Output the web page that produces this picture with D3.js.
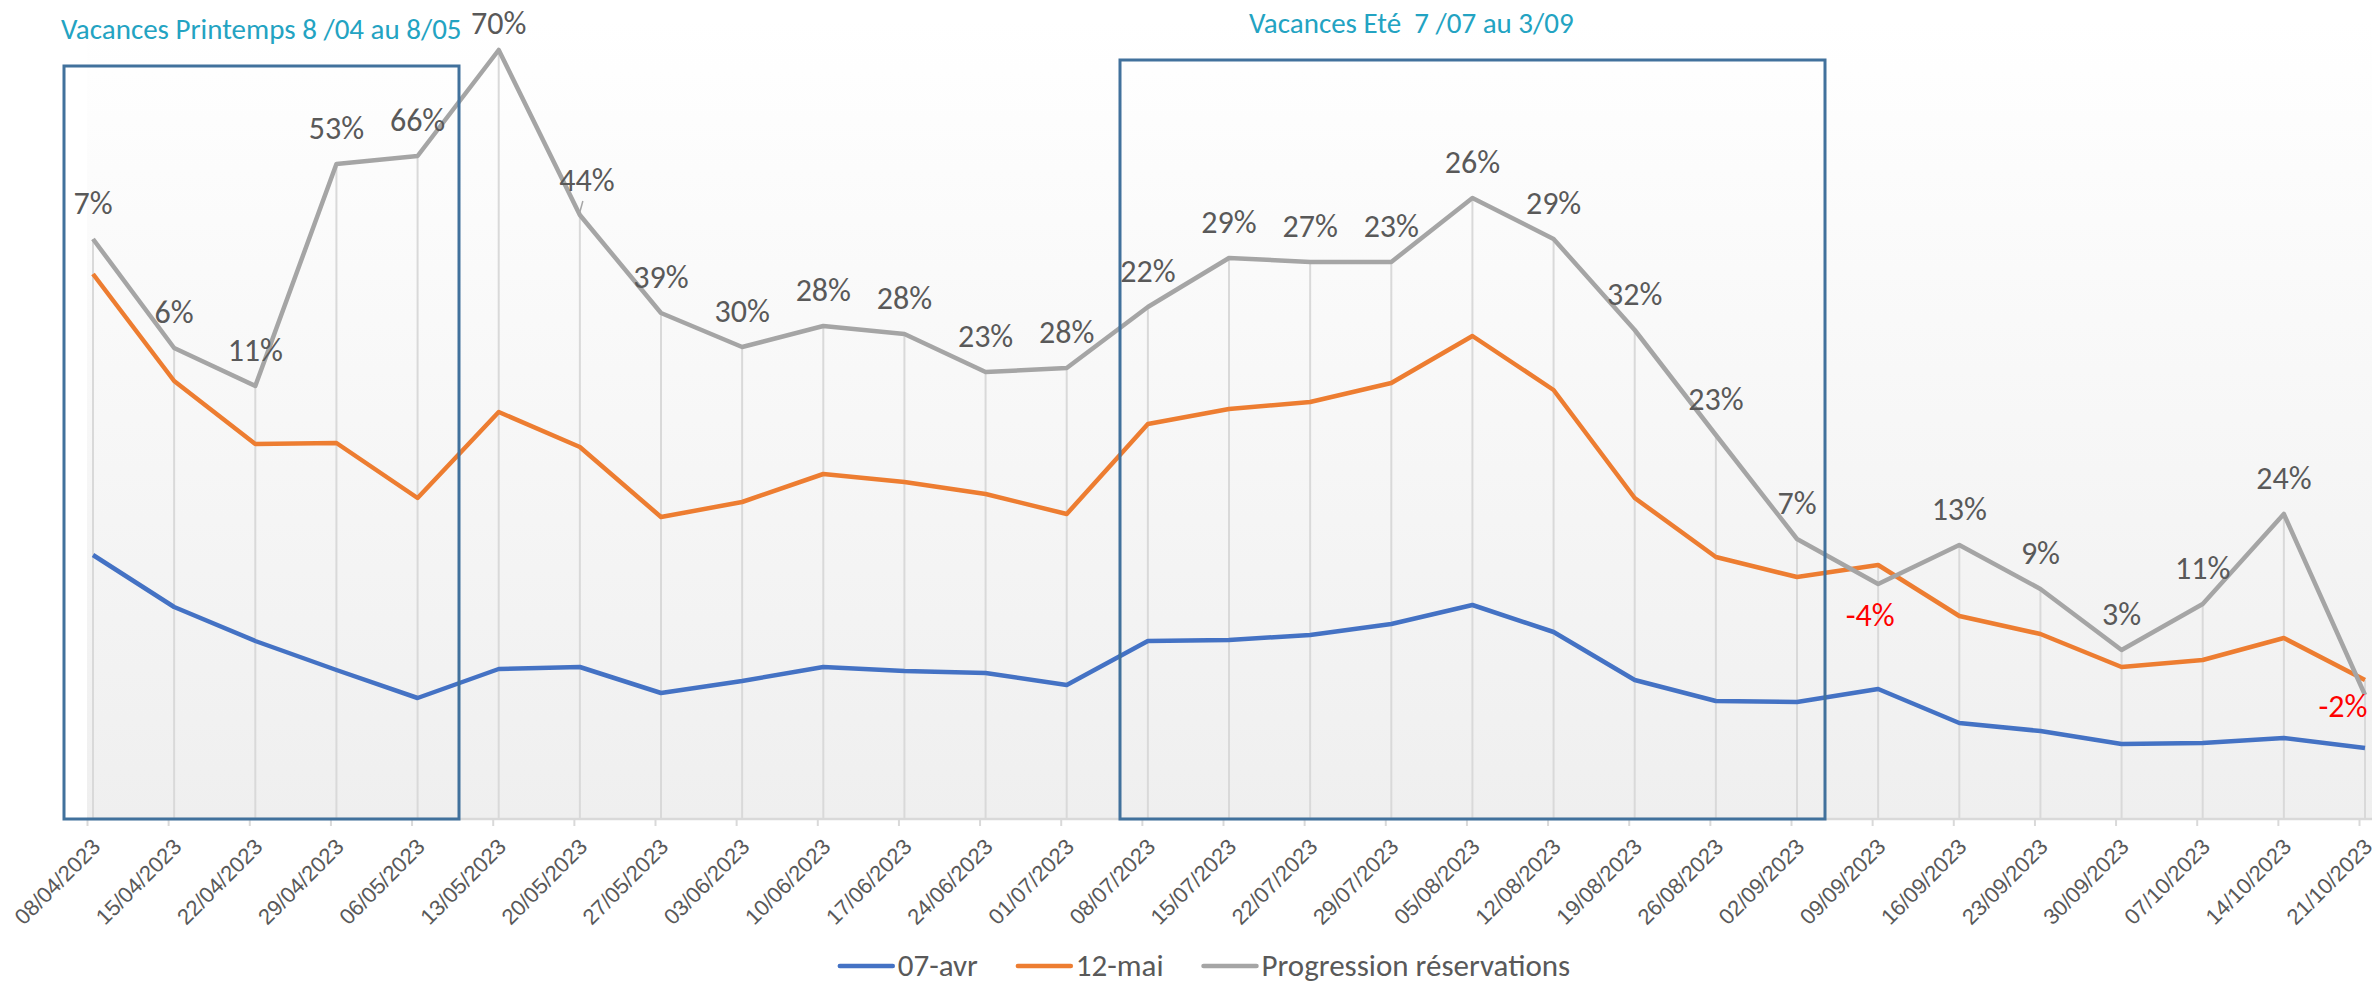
<!DOCTYPE html>
<html>
<head>
<meta charset="utf-8">
<script src="https://cdn.jsdelivr.net/npm/d3@7"></script>
<style>
    body { margin: 0; background: #ffffff; }
    svg { display: block; font-family: Carlito, Calibri, Lato, sans-serif; }
</style>
</head>
<body>
<svg id="chart" viewBox="0 0 2377 986" width="2377" height="986"></svg>
<script>
// categories (weekly dates)
const dates = ["08/04/2023","15/04/2023","22/04/2023","29/04/2023","06/05/2023","13/05/2023","20/05/2023",
    "27/05/2023","03/06/2023","10/06/2023","17/06/2023","24/06/2023","01/07/2023","08/07/2023","15/07/2023",
    "22/07/2023","29/07/2023","05/08/2023","12/08/2023","19/08/2023","26/08/2023","02/09/2023","09/09/2023",
    "16/09/2023","23/09/2023","30/09/2023","07/10/2023","14/10/2023","21/10/2023"]

// series values (no axis shown)
const avr07 = [264,212,178,149,121,150,152,126,138,152,148,146,134,178,179,184,195,214,187,139,118,117,130,96,88,75,76,81,71]
const mai12 = [545,438,375,376,321,407,372,302,317,345,337,325,305,395,410,417,436,483,429,321,262,242,254,203,185,152,159,181,139]
const progression = [580,471,433,655,663,769,604,506,472,493,485,447,451,512,561,557,557,621,580,489,384,280,235,274,230,169,215,305,124]
const progressionLabels = ["7%","6%","11%","53%","66%","70%","44%","39%","30%","28%","28%","23%","28%","22%","29%",
    "27%","23%","26%","29%","32%","23%","7%","-4%","13%","9%","3%","11%","24%","-2%"]

const seriesNames = ["07-avr","12-mai","Progression réservations"]
const seriesColors = ["#4472C4","#ED7D31","#A5A5A5"]

// holiday period titles
const periodTitles = ["Vacances Printemps 8 /04 au 8/05","Vacances Eté  7 /07 au 3/09"]

let svg = d3.select("#chart")
let baseY = 819

let x = d3.scalePoint()
    .domain(dates)
    .range([93, 2365])

let y = d3.scaleLinear()
    .domain([0, 800])
    .range([baseY, 19])

// plot area gradient
let defs = svg.append("defs")
let grad = defs.append("linearGradient")
    .attr("id","plotGrad")
    .attr("x1",0).attr("y1",0).attr("x2",0).attr("y2",1)
grad.append("stop").attr("offset","0%").attr("stop-color","#ffffff")
grad.append("stop").attr("offset","100%").attr("stop-color","#efefef")

svg.append("rect")
    .attr("x",87)
    .attr("y",20)
    .attr("width",2372-87)
    .attr("height",baseY-20)
    .attr("fill","url(#plotGrad)")

// drop lines from highest point of each category
let tops = dates.map(function(d,i){ return Math.max(avr07[i],mai12[i],progression[i]) })
svg.append("g")
    .selectAll("line")
    .data(dates)
    .enter()
    .append("line")
    .attr("x1",function(d){ return x(d) })
    .attr("x2",function(d){ return x(d) })
    .attr("y1",function(d,i){ return y(tops[i]) })
    .attr("y2",baseY)
    .attr("stroke","#d9d9d9")
    .attr("stroke-width",2)

// x axis
let xAxis = d3.axisBottom(x)
    .tickSize(7)
    .tickSizeOuter(0)
let axisG = svg.append("g")
    .attr("transform",`translate(-6,${baseY})`)
    .call(xAxis)
axisG.select(".domain")
    .attr("d",`M93,0H2378`)
    .attr("stroke","#d9d9d9")
    .attr("stroke-width",2.5)
axisG.selectAll(".tick line")
    .attr("stroke","#d9d9d9")
    .attr("stroke-width",2)
axisG.selectAll(".tick text")
    .attr("fill","#595959")
    .style("font-size","22px")
    .attr("text-anchor","end")
    .attr("y",0)
    .attr("dy","0.72em")
    .attr("transform","translate(3,18) rotate(-45)")

// lines
let allSeries = [avr07, mai12, progression]
let line = d3.line()
    .x(function(d,i){ return x(dates[i]) })
    .y(function(d){ return y(d) })

svg.append("g")
    .selectAll("path")
    .data(allSeries)
    .enter()
    .append("path")
    .attr("d",function(d){ return line(d) })
    .attr("fill","none")
    .attr("stroke",function(d,i){ return seriesColors[i] })
    .attr("stroke-width",4.5)
    .attr("stroke-linejoin","round")

// data labels on the progression line, a few moved like in excel
let labelNudge = {5:[0,9], 6:[7,1], 22:[-8,67], 28:[-22,47]}
let labelG = svg.append("g")
labelG.selectAll("text")
    .data(progressionLabels)
    .enter()
    .append("text")
    .attr("x",function(d,i){ return x(dates[i]) + (labelNudge[i] ? labelNudge[i][0] : 0) })
    .attr("y",function(d,i){ return y(progression[i]) - 36 + (labelNudge[i] ? labelNudge[i][1] : 0) })
    .attr("dy","0.35em")
    .attr("text-anchor","middle")
    .attr("fill",function(d){ return d.startsWith("-") ? "#FF0000" : "#595959" })
    .style("font-size","32px")
    .text(function(d){ return d })

// leader line for the 44% label
labelG.append("line")
    .attr("x1",x(dates[6]) + 3)
    .attr("y1",y(progression[6]) - 14)
    .attr("x2",x(dates[6]))
    .attr("y2",y(progression[6]) - 3)
    .attr("stroke","#a6a6a6")
    .attr("stroke-width",1.5)

// holiday boxes
let boxes = [
    {x0:64, x1:459, top:66, title:periodTitles[0], tx:61, ty:39},
    {x0:1120, x1:1825, top:60, title:periodTitles[1], tx:1249, ty:33}
]
let boxG = svg.append("g")
boxG.selectAll("rect")
    .data(boxes)
    .enter()
    .append("rect")
    .attr("x",function(d){ return d.x0 })
    .attr("y",function(d){ return d.top })
    .attr("width",function(d){ return d.x1 - d.x0 })
    .attr("height",function(d){ return baseY - d.top })
    .attr("fill","none")
    .attr("stroke","#41719C")
    .attr("stroke-width",3)
boxG.selectAll("text")
    .data(boxes)
    .enter()
    .append("text")
    .attr("x",function(d){ return d.tx })
    .attr("y",function(d){ return d.ty })
    .attr("fill","#23A3C2")
    .style("font-size","29px")
    .style("white-space","pre")
    .attr("xml:space","preserve")
    .text(function(d){ return d.title })

// legend
let legend = svg.append("g")
let lx = 0
seriesNames.forEach(function(name,i){
    let item = legend.append("g").attr("transform",`translate(${lx},0)`)
    item.append("line")
        .attr("x1",0).attr("x2",53)
        .attr("y1",0).attr("y2",0)
        .attr("stroke",seriesColors[i])
        .attr("stroke-width",4.5)
        .attr("stroke-linecap","round")
    let t = item.append("text")
        .attr("x",58)
        .attr("y",10)
        .attr("fill","#595959")
        .style("font-size","31px")
        .text(name)
    lx += 58 + t.node().getComputedTextLength() + 40
})
lx -= 40
legend.attr("transform",`translate(${1205 - lx/2},966)`)
</script>
</body>
</html>
